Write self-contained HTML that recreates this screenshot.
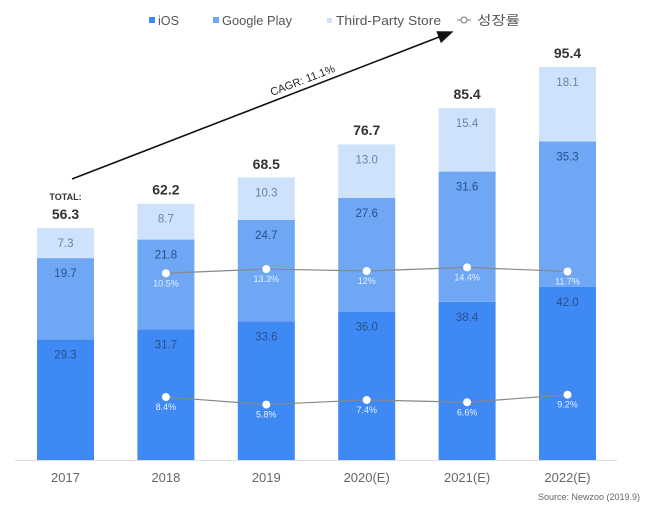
<!DOCTYPE html>
<html><head><meta charset="utf-8"><style>
body{margin:0;background:#fff;}
svg{display:block;font-family:"Liberation Sans","Noto Sans CJK KR",sans-serif;}
</style></head><body>
<svg id="chart" width="649" height="509" viewBox="0 0 649 509">
<defs><marker id="ah" markerWidth="10" markerHeight="8" refX="9" refY="4" orient="auto"><path d="M0,0 L10,4 L0,8 z" fill="#111"/></marker></defs>
<g>
 <rect x="149" y="17" width="6" height="6" fill="#3f89f4"/><text x="158" y="25" font-size="13" fill="#555" textLength="21" lengthAdjust="spacingAndGlyphs">iOS</text>
 <rect x="213" y="17" width="6" height="6" fill="#6fa7f5"/><text x="222" y="25" font-size="13" fill="#555" textLength="70" lengthAdjust="spacingAndGlyphs">Google Play</text>
 <rect x="327" y="18" width="5" height="5" fill="#cfe2fb"/><text x="336" y="25" font-size="13" fill="#555" textLength="105" lengthAdjust="spacingAndGlyphs">Third-Party Store</text>
 <line x1="457" y1="20" x2="471" y2="20" stroke="#777"/><circle cx="464" cy="20" r="3" fill="#fff" stroke="#777"/><text x="477" y="25" font-size="13" fill="#555" textLength="43" lengthAdjust="spacingAndGlyphs">성장률</text>
</g>
<line x1="72" y1="179" x2="452" y2="32" stroke="#111" stroke-width="1.6" marker-end="url(#ah)"/>
<text x="0" y="0" font-size="11" fill="#222" transform="translate(272,96) rotate(-21)">CAGR: 11.1%</text>
<line x1="15" y1="460.5" x2="617" y2="460.5" stroke="#ddd"/>
<g id="bars"></g>
<g id="lines"></g>
<text x="640" y="500" font-size="9" fill="#666" text-anchor="end">Source: Newzoo (2019.9)</text>
</svg>
<script>
const years=["2017","2018","2019","2020(E)","2021(E)","2022(E)"];
const ios=[29.3,31.7,33.6,36.0,38.4,42.0];
const google=[19.7,21.8,24.7,27.6,31.6,35.3];
const third=[7.3,8.7,10.3,13.0,15.4,18.1];
const totals=[56.3,62.2,68.5,76.7,85.4,95.4];
const growthTop=[null,10.5,13.3,12,14.4,11.7];
const growthTopLabels=["","10.5%","13.3%","12%","14.4%","11.7%"];
const growthBot=[null,8.4,5.8,7.4,6.6,9.2];
const growthBotLabels=["","8.4%","5.8%","7.4%","6.6%","9.2%"];
const NS="http://www.w3.org/2000/svg";
const base=460, k=4.12, bw=57;
const xs=i=>37+i*100.4;
const ys=v=>base-v*k;
const yTop=v=>289-1.5*v;
const yBot=v=>421.4-2.9*v;
function mk(t,a,p){const e=document.createElementNS(NS,t);for(const n in a)e.setAttribute(n,a[n]);(p||document.getElementById('bars')).appendChild(e);return e;}
const segs=[[ios,"#3f89f4","#2a4f8a","ios"],[google,"#6fa7f5","#2a4f8a","google-play"],[third,"#cfe2fb","#6a82a8","third-party"]];
years.forEach((y,i)=>{
  let cum=0;
  segs.forEach(([arr,col,tc,nm])=>{
    const y0=ys(cum), y1=ys(cum+arr[i]);
    const r=mk('rect',{x:xs(i),y:y1,width:bw,height:y0-y1,fill:col});
    
    
    const t=mk('text',{x:xs(i)+bw/2,y:y1+19,'text-anchor':'middle','font-size':11.5,fill:tc});
    
    
    t.textContent=arr[i].toFixed(1);
    cum+=arr[i];
  });
  const tt=mk('text',{x:xs(i)+bw/2,y:ys(totals[i])-9,'text-anchor':'middle','font-size':14,'font-weight':'bold',fill:'#333'});
  
  
  tt.textContent=totals[i].toFixed(1);
  const yl=mk('text',{x:xs(i)+bw/2,y:482,'text-anchor':'middle','font-size':13,fill:'#666'});
  
  
  yl.textContent=y;
});
const tl=mk('text',{x:xs(0)+bw/2,y:ys(totals[0])-28,'text-anchor':'middle','font-size':9,'font-weight':'bold',fill:'#333'});


tl.textContent="TOTAL:";
const lg=document.getElementById('lines');
[[growthTop,growthTopLabels,yTop,'top'],[growthBot,growthBotLabels,yBot,'bottom']].forEach(([arr,labs,sc,nm])=>{
  let pts=[];
  arr.forEach((v,i)=>{if(v!=null)pts.push((xs(i)+bw/2)+','+sc(v));});
  const pl=mk('polyline',{points:pts.join(' '),fill:'none',stroke:'#888','stroke-width':1.2},lg);
  
  
  arr.forEach((v,i)=>{
    if(v==null)return;
    const c=mk('circle',{cx:xs(i)+bw/2,cy:sc(v),r:4,fill:'#fff'},lg);
    
    
    const t=mk('text',{x:xs(i)+bw/2,y:sc(v)+13,'text-anchor':'middle','font-size':9,fill:'#e6f0ff'},lg);
    
    
    t.textContent=labs[i];
  });
});
</script>
</body></html>
